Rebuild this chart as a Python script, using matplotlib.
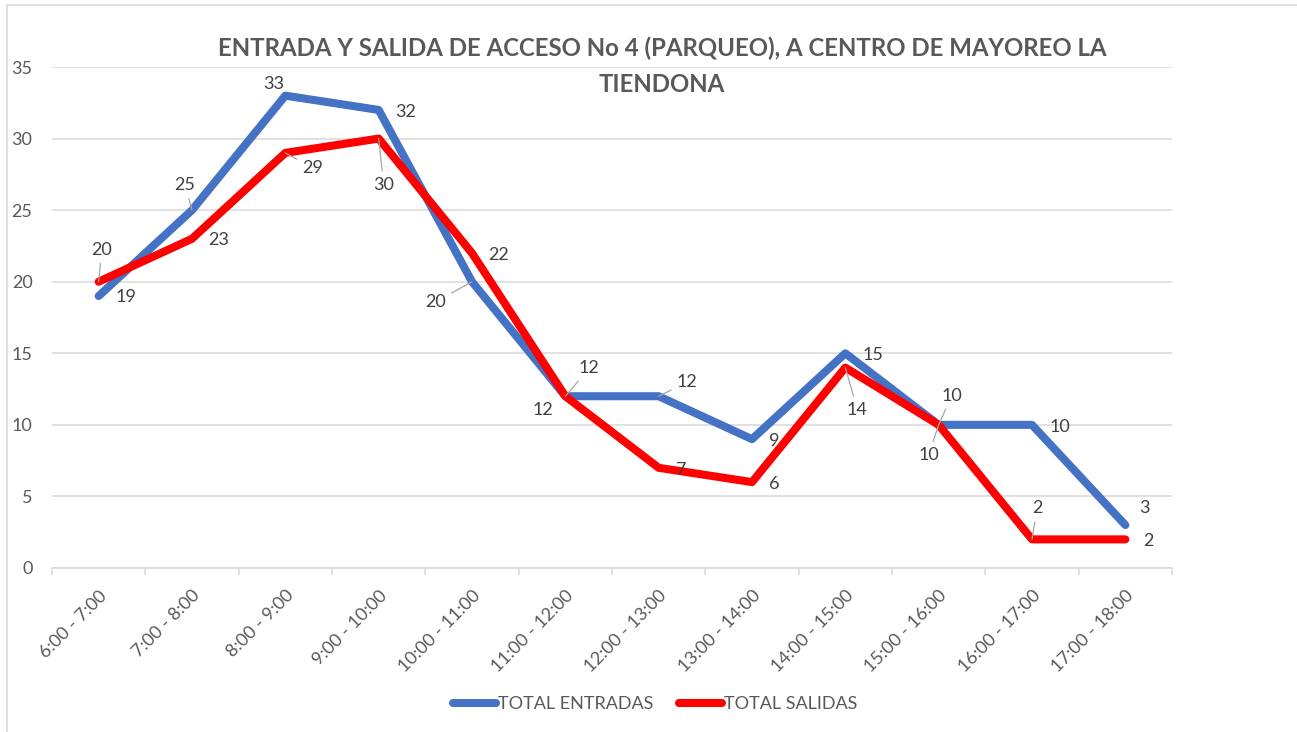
import matplotlib
matplotlib.use("Agg")
import matplotlib.pyplot as plt
from matplotlib.patches import Rectangle

categories = ["6:00 - 7:00", "7:00 - 8:00", "8:00 - 9:00", "9:00 - 10:00",
              "10:00 - 11:00", "11:00 - 12:00", "12:00 - 13:00", "13:00 - 14:00",
              "14:00 - 15:00", "15:00 - 16:00", "16:00 - 17:00", "17:00 - 18:00"]
entradas = [19, 25, 33, 32, 20, 12, 12, 9, 15, 10, 10, 3]
salidas = [20, 23, 29, 30, 22, 12, 7, 6, 14, 10, 2, 2]
series_names = ["TOTAL ENTRADAS", "TOTAL SALIDAS"]
title_lines = ["ENTRADA Y SALIDA DE ACCESO No 4 (PARQUEO), A CENTRO DE MAYOREO LA",
               "TIENDONA"]
yticks = [0, 5, 10, 15, 20, 25, 30, 35]

# label offsets in pixels (layout), and whether a leader line is drawn
off_ent = [(27, -1), (-7, 25), (-12, 12), (27, -2), (-36, -20), (24, 28),
           (28, 14), (22, -2), (28, -2), (13, 29), (28, -2), (19, 17)]
lead_ent = [False, True, False, False, True, True, True, False, False, True, False, False]
off_sal = [(3, 32), (27, -1), (27, -15), (5, -46), (27, -2), (-22, -14),
           (23, -2), (22, -2), (12, -42), (-10, -30), (5, 31), (23, -2)]
lead_sal = [True, False, True, True, False, False, False, False, True, True, True, False]

W, H = 1297, 732
fig = plt.figure(figsize=(W / 100, H / 100), dpi=100)
ax = fig.add_axes([52 / W, 1 - 568 / H, (1172 - 52) / W, (568 - 67) / H])

FONT = "Lato"
GRAY = "#595959"
LBL = "#404040"
BLUE = "#4472C4"
RED = "#FF0000"

x = list(range(len(categories)))
ax.plot(x, entradas, color=BLUE, lw=5.8, solid_capstyle="round",
        solid_joinstyle="round", label=series_names[0], zorder=3)
ax.plot(x, salidas, color=RED, lw=5.8, solid_capstyle="round",
        solid_joinstyle="round", label=series_names[1], zorder=4)

ax.set_xlim(-0.5, len(categories) - 0.5)
ax.set_ylim(0, 35)
ax.set_yticks(yticks)
ax.set_yticklabels([str(t) for t in yticks], fontfamily=FONT, fontsize=13, color=GRAY)
ax.grid(axis="y", color="#D9D9D9", lw=1.1, zorder=0)
ax.set_axisbelow(True)
for s in ["top", "right", "left"]:
    ax.spines[s].set_visible(False)
ax.spines["bottom"].set_color("#D9D9D9")
ax.spines["bottom"].set_linewidth(1.1)
ax.tick_params(axis="y", length=0, pad=14)

ax.set_xticks(x)
ax.set_xticklabels(categories, rotation=45, ha="right", rotation_mode="anchor",
                   fontfamily=FONT, fontsize=13, color=GRAY)
ax.tick_params(axis="x", which="major", length=0, pad=14)
ax.set_xticks([i - 0.5 for i in range(len(categories) + 1)], minor=True)
ax.tick_params(axis="x", which="minor", length=5, color="#D9D9D9", width=1.1)

def add_labels(vals, offs, leads):
    for i, (v, (dx, dy), ld) in enumerate(zip(vals, offs, leads)):
        kw = dict(xy=(i, v), xytext=(dx, dy), textcoords="offset pixels",
                  ha="center", va="center", fontfamily=FONT, fontsize=13,
                  color=LBL, zorder=6)
        if ld:
            kw["arrowprops"] = dict(arrowstyle="-", color="#A6A6A6", lw=0.9,
                                    shrinkA=2, shrinkB=0)
        ax.annotate(str(v), **kw)

add_labels(entradas, off_ent, lead_ent)
add_labels(salidas, off_sal, lead_sal)

fig.text(662 / W, 1 - 48 / H, title_lines[0], ha="center", va="center", fontfamily=FONT,
         fontweight="bold", fontsize=17.3, color=GRAY)
fig.text(662 / W, 1 - 85 / H, title_lines[1], ha="center", va="center", fontfamily=FONT,
         fontweight="bold", fontsize=17.3, color=GRAY)

fig.legend(loc="center", bbox_to_anchor=(655 / W, 1 - 704 / H), ncol=2,
           frameon=False, prop={"family": FONT, "size": 13}, labelcolor=GRAY,
           handlelength=2.4, handletextpad=0.1, columnspacing=1.4)

fig.patches.append(Rectangle((7 / W, -0.2), 1.2, (1 - 5 / H) + 0.2,
                             transform=fig.transFigure, fill=False,
                             edgecolor="#D9D9D9", lw=1.2))

fig.savefig("out.png", dpi=100)
